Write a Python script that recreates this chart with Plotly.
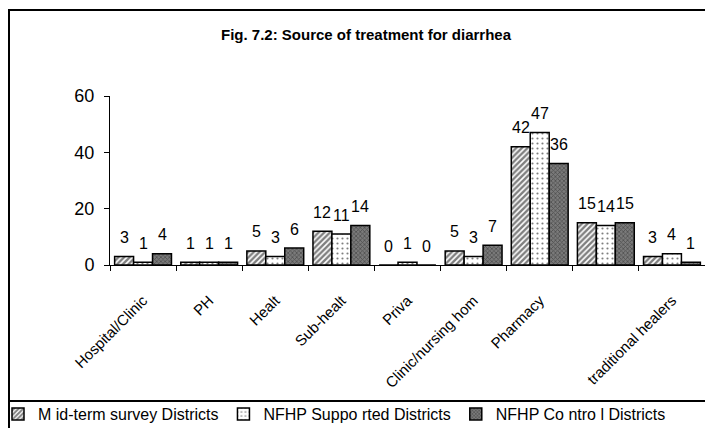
import plotly.graph_objects as go

# ------------------------
# Data
# ------------------------
categories = ["Hospital/Clinic", "PH", "Healt", "Sub-healt", "Priva",
              "Clinic/nursing hom", "Pharmacy", " ", "traditional healers"]
midterm = [3, 1, 5, 12, 0, 5, 42, 15, 3]
supported = [1, 1, 3, 11, 1, 3, 47, 14, 4]
control = [4, 1, 6, 14, 0, 7, 36, 15, 1]
series_names = ["M id-term survey Districts", "NFHP Suppo rted Districts", "NFHP Co ntro l Districts"]

# ------------------------
# Layout geometry (pixels, page has an 8px body margin)
# ------------------------
OFF = 8
W, H = 713 - OFF, 428 - OFF
L, R, T, B = 110 - OFF, 8, 96 - OFF, 428 - 265
pw, ph = W - L - R, H - T - B
bargap = 0.14
bar_px = pw / len(categories) * (1 - bargap) / 3


def px_x(px):
    # reference-picture pixel -> paper coordinate
    return (px - OFF - L) / pw


def px_y(py):
    return (H - B - (py - OFF)) / ph


styles = [
    dict(shape="/", fgcolor="#000", bgcolor="white", size=4, solidity=0.6),
    dict(shape=".", fgcolor="black", bgcolor="white", size=5, solidity=0.15),
    dict(shape="x", fgcolor="#222", bgcolor="#7a7a7a", size=3, solidity=0.45),
]

fig = go.Figure()
for name, vals, pat in zip(series_names, [midterm, supported, control], styles):
    fig.add_trace(go.Bar(
        x=categories, y=vals, name=name,
        marker=dict(color=pat["bgcolor"], pattern=pat,
                    line=dict(color="black", width=1.5)),
    ))

# value labels above each bar
for k, vals in enumerate([midterm, supported, control]):
    for c, v in zip(categories, vals):
        fig.add_annotation(x=c, y=v, text=str(v), showarrow=False,
                           xshift=(k - 1) * bar_px, yshift=19,
                           font=dict(size=16, color="black"))

# frame lines
frame = [(8, 10, 713, 10), (9, 10, 9, 428), (711, 10, 711, 428), (8, 401, 711, 401)]
for x0, y0, x1, y1 in frame:
    fig.add_shape(type="line", xref="paper", yref="paper",
                  x0=px_x(x0), y0=px_y(y0), x1=px_x(x1), y1=px_y(y1),
                  line=dict(color="black", width=2))

fig.update_layout(
    width=W, height=H,
    margin=dict(l=L, r=R, t=T, b=B, autoexpand=False),
    paper_bgcolor="white", plot_bgcolor="white",
    barmode="group", bargap=bargap, bargroupgap=0,
    font=dict(family="Liberation Sans, Arial, sans-serif", color="black"),
    title=dict(text="<b>Fig. 7.2: Source of treatment for diarrhea</b>",
               x=(366 - OFF) / W, xanchor="center",
               y=1 - (35 - OFF) / H, yanchor="middle",
               font=dict(size=15)),
    showlegend=True,
    legend=dict(orientation="h", x=px_x(-2), xanchor="left",
                y=px_y(414), yanchor="middle",
                font=dict(size=16), itemwidth=30,
                tracegroupgap=0, bgcolor="rgba(0,0,0,0)"),
)

fig.update_xaxes(
    type="category", showline=True, linecolor="black", linewidth=1,
    ticks="outside", tickson="boundaries", ticklen=5, tickcolor="black",
    tickangle=-45, tickfont=dict(size=15), ticklabelstandoff=20,
    showgrid=False,
)
fig.update_yaxes(
    range=[0, 60], tickvals=[0, 20, 40, 60], showline=True,
    linecolor="black", linewidth=1, ticks="outside", ticklen=5,
    tickcolor="black", tickfont=dict(size=18), ticklabelstandoff=6,
    showgrid=False, zeroline=False,
)

fig.write_html("out.html")
